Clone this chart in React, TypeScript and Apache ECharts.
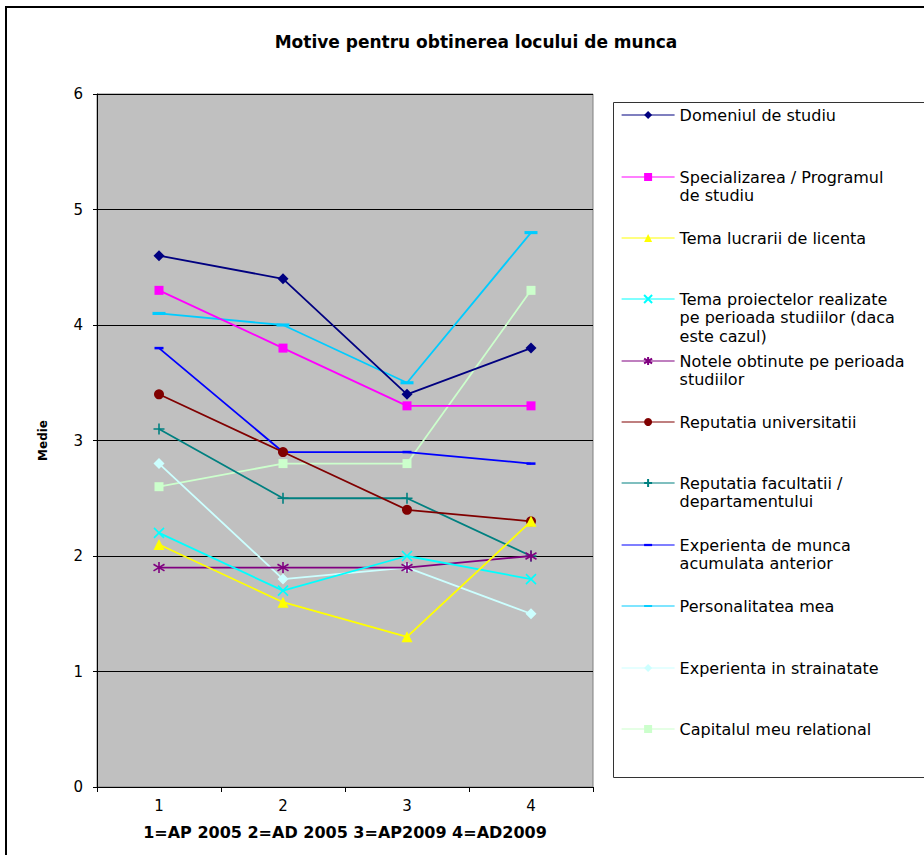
import React, { useEffect, useRef } from 'react';
import * as echarts from 'echarts';

// ---- data ----
const categories = ['1', '2', '3', '4'];
const yTickValues = [0, 1, 2, 3, 4, 5, 6];

const domeniulDeStudiu = [4.6, 4.4, 3.4, 3.8];
const specializarea = [4.3, 3.8, 3.3, 3.3];
const temaLucrarii = [2.1, 1.6, 1.3, 2.3];
const temaProiectelor = [2.2, 1.7, 2.0, 1.8];
const notele = [1.9, 1.9, 1.9, 2.0];
const reputatiaUniversitatii = [3.4, 2.9, 2.4, 2.3];
const reputatiaFacultatii = [3.1, 2.5, 2.5, 2.0];
const experientaMunca = [3.8, 2.9, 2.9, 2.8];
const personalitatea = [4.1, 4.0, 3.5, 4.8];
const experientaStrainatate = [2.8, 1.8, 1.9, 1.5];
const capitalulRelational = [2.6, 2.8, 2.8, 4.3];

const seriesNames = [
  'Domeniul de studiu',
  'Specializarea / Programul\nde studiu',
  'Tema lucrarii de licenta',
  'Tema proiectelor realizate\npe perioada studiilor (daca\neste cazul)',
  'Notele obtinute pe perioada\nstudiilor',
  'Reputatia universitatii',
  'Reputatia facultatii /\ndepartamentului',
  'Experienta de munca\nacumulata anterior',
  'Personalitatea mea',
  'Experienta in strainatate',
  'Capitalul meu relational',
];

const seriesValues = [
  domeniulDeStudiu,
  specializarea,
  temaLucrarii,
  temaProiectelor,
  notele,
  reputatiaUniversitatii,
  reputatiaFacultatii,
  experientaMunca,
  personalitatea,
  experientaStrainatate,
  capitalulRelational,
];

const chartTitle = 'Motive pentru obtinerea locului de munca';
const xAxisName = '1=AP 2005 2=AD 2005 3=AP2009 4=AD2009';
const yAxisName = 'Medie';

// ---- styles ----
const SYM_X = 'path://M0,0L10,10M10,0L0,10';
const SYM_STAR = 'path://M5,0L5,10M0,2L10,8M0,8L10,2';
const SYM_PLUS = 'path://M5,0L5,10M0,5L10,5';
const SYM_DASH = 'path://M0,0L0,0M0,3.6L10,3.6L10,6.4L0,6.4ZM10,10L10,10';
const SYM_LDASH = 'path://M0,0L0,0M0,3.8L10,3.8L10,6.2L0,6.2ZM10,10L10,10';

const seriesStyles = [
  { color: '#000080', symbol: 'diamond', size: 11, stroke: false },
  { color: '#FF00FF', symbol: 'rect', size: 9, stroke: false },
  { color: '#FFFF00', symbol: 'triangle', size: 11, stroke: false },
  { color: '#00FFFF', symbol: SYM_X, size: 10, stroke: true },
  { color: '#800080', symbol: SYM_STAR, size: 11, stroke: true },
  { color: '#800000', symbol: 'circle', size: 10, stroke: false },
  { color: '#008080', symbol: SYM_PLUS, size: 11, stroke: true },
  { color: '#0000FF', symbol: SYM_DASH, size: 9, stroke: false },
  { color: '#00CCFF', symbol: SYM_LDASH, size: 13, stroke: false },
  { color: '#CCFFFF', symbol: 'diamond', size: 11, stroke: false },
  { color: '#CCFFCC', symbol: 'rect', size: 9, stroke: false },
];

const legendFirstLineY = [115, 177, 238, 299, 361, 422, 483, 545, 606, 668, 729];
const LEGEND_LINE_H = 18.5;
const FONT = 'DejaVu Sans';

export default function App() {
  const ref = useRef<HTMLDivElement>(null);

  useEffect(() => {
    if (!ref.current) return;
    const chart = echarts.init(ref.current, undefined, { renderer: 'svg' });

    const series = seriesNames.map((name, i) => {
      const st = seriesStyles[i];
      return {
        name,
        type: 'line',
        data: seriesValues[i],
        symbol: st.symbol,
        symbolSize: st.size,
        lineStyle: { color: st.color, width: 1.8 },
        itemStyle: st.stroke
          ? { color: st.color, borderColor: st.color, borderWidth: 1.6 }
          : { color: st.color, borderWidth: 0 },
        emphasis: { disabled: true },
        z: 2 + (seriesNames.length - i),
      };
    });

    const legends = seriesNames.map((name, i) => {
      const nLines = name.split('\n').length;
      return {
        data: [name],
        orient: 'vertical',
        left: 621,
        top: legendFirstLineY[i] - ((2 * nLines - 1) * LEGEND_LINE_H) / 2,
        padding: 0,
        itemGap: 0,
        itemWidth: 53,
        itemHeight: 10,
        selectedMode: false,
        lineStyle: { width: 1.2 },
        formatter: (n: string) => '\n'.repeat(nLines - 1) + n,
        textStyle: {
          fontFamily: FONT,
          fontSize: 16,
          lineHeight: LEGEND_LINE_H,
          color: '#000',
        },
      };
    });

    const option: any = {
      animation: false,
      backgroundColor: '#fff',
      title: {
        text: chartTitle,
        left: 471,
        top: 28,
        textAlign: 'center',
        textStyle: { fontFamily: FONT, fontSize: 17, fontWeight: 'bold', color: '#000' },
      },
      grid: {
        left: 97,
        top: 94,
        width: 496,
        height: 693,
        show: true,
        backgroundColor: '#C0C0C0',
        borderColor: '#808080',
        borderWidth: 1,
      },
      legend: legends,
      xAxis: {
        type: 'category',
        data: categories,
        boundaryGap: true,
        name: xAxisName,
        nameLocation: 'middle',
        nameGap: 37,
        nameTextStyle: { fontFamily: FONT, fontSize: 16, fontWeight: 'bold', color: '#000' },
        axisLine: { lineStyle: { color: '#000', width: 1 } },
        axisTick: { show: true, length: 5, lineStyle: { color: '#000' } },
        axisLabel: { margin: 11, fontFamily: FONT, fontSize: 15, color: '#000' },
        splitLine: { show: false },
      },
      yAxis: {
        type: 'value',
        min: yTickValues[0],
        max: yTickValues[yTickValues.length - 1],
        interval: 1,
        name: yAxisName,
        nameLocation: 'middle',
        nameGap: 48,
        nameTextStyle: { fontFamily: FONT, fontSize: 12, fontWeight: 'bold', color: '#000' },
        axisLine: { show: true, lineStyle: { color: '#000', width: 1 } },
        axisTick: { show: true, length: 4, lineStyle: { color: '#000' } },
        axisLabel: { margin: 14, fontFamily: FONT, fontSize: 15, color: '#000' },
        splitLine: { show: true, lineStyle: { color: '#000', width: 1 } },
      },
      graphic: [
        {
          type: 'rect',
          silent: true,
          z: -10,
          shape: { x: 6, y: 7, width: 1000, height: 1000 },
          style: { fill: 'none', stroke: '#000', lineWidth: 2 },
        },
        {
          type: 'rect',
          silent: true,
          z: -10,
          shape: { x: 613.5, y: 102.5, width: 400, height: 675 },
          style: { fill: '#fff', stroke: '#333', lineWidth: 1 },
        },
      ],
      series,
    };

    chart.setOption(option);
    return () => chart.dispose();
  }, []);

  return (
    <div
      ref={ref}
      style={{ position: 'absolute', left: 0, top: 0, width: 924, height: 855, background: '#fff' }}
    />
  );
}
